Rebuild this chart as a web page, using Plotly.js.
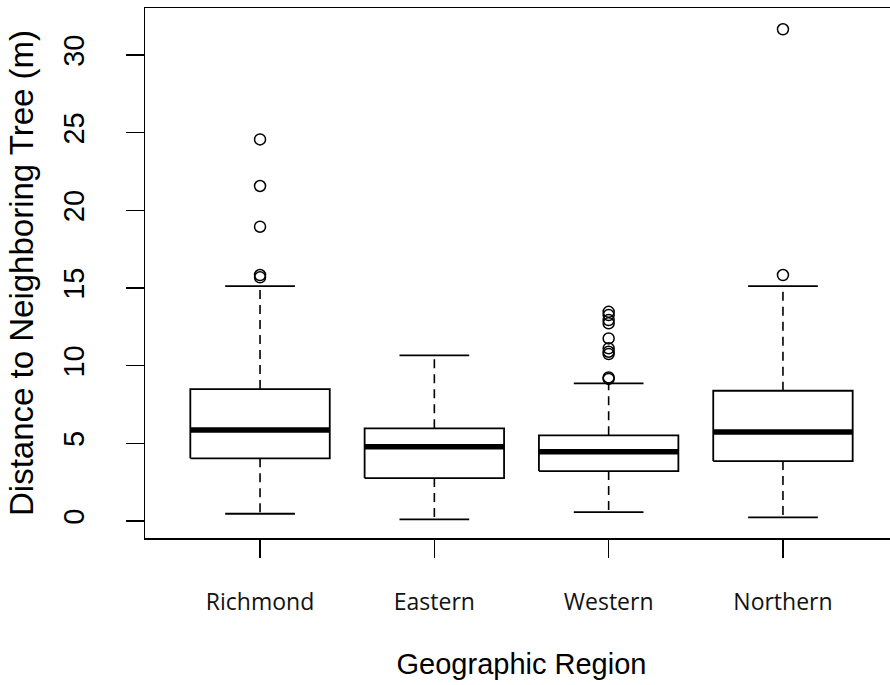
<!DOCTYPE html>
<html>
<head>
<meta charset="utf-8">
<script src="https://cdn.plot.ly/plotly-3.0.1.min.js"></script>
<style>
html,body{margin:0;padding:0;overflow:hidden;background:#fff;}
#chart{width:900px;height:685px;}
</style>
</head>
<body>
<div id="chart"></div>
<script>
// Data
var categories = ['Richmond', 'Eastern', 'Western', 'Northern'];
var lowerWhisker = [0.47, 0.11, 0.58, 0.24];
var q1 = [4.04, 2.77, 3.22, 3.86];
var median = [5.86, 4.78, 4.46, 5.73];
var q3 = [8.50, 5.97, 5.52, 8.39];
var upperWhisker = [15.13, 10.67, 8.86, 15.13];
var outliersRichmond = [24.57, 21.57, 18.95, 15.84, 15.69];
var outliersEastern = [];
var outliersWestern = [13.47, 13.26, 12.94, 12.73, 11.76, 11.12, 10.90, 10.75, 9.25, 9.15];
var outliersNorthern = [31.66, 15.84];
var outliers = [outliersRichmond, outliersEastern, outliersWestern, outliersNorthern];
var yTicks = [0, 5, 10, 15, 20, 25, 30];

var boxHalf = 0.4, capHalf = 0.2;
var bx = [], by = [], mx = [], my = [], wx = [], wy = [], cx = [], cy = [], ox = [], oy = [];
categories.forEach(function (c, i) {
  var p = i + 1;
  bx.push(p - boxHalf, p + boxHalf, p + boxHalf, p - boxHalf, p - boxHalf, null);
  by.push(q1[i], q1[i], q3[i], q3[i], q1[i], null);
  mx.push(p - boxHalf, p + boxHalf, null);
  my.push(median[i], median[i], null);
  wx.push(p, p, null, p, p, null);
  wy.push(q3[i], upperWhisker[i], null, q1[i], lowerWhisker[i], null);
  cx.push(p - capHalf, p + capHalf, null, p - capHalf, p + capHalf, null);
  cy.push(upperWhisker[i], upperWhisker[i], null, lowerWhisker[i], lowerWhisker[i], null);
  outliers[i].forEach(function (v) { ox.push(p); oy.push(v); });
});

var traces = [
  {x: wx, y: wy, mode: 'lines', line: {color: '#000', width: 1.6, dash: '9px,6px'}, hoverinfo: 'skip'},
  {x: cx, y: cy, mode: 'lines', line: {color: '#000', width: 1.8}, hoverinfo: 'skip'},
  {x: bx, y: by, mode: 'lines', line: {color: '#000', width: 1.8}, hoverinfo: 'skip'},
  {x: mx, y: my, mode: 'lines', line: {color: '#000', width: 5.5}, hoverinfo: 'skip'},
  {x: ox, y: oy, mode: 'markers', marker: {symbol: 'circle-open', size: 11, color: '#000', line: {width: 1.5, color: '#000'}}, hoverinfo: 'y'}
];
traces.forEach(function (t) { t.type = 'scatter'; t.showlegend = false; t.cliponaxis = false; });

var layout = {
  width: 900, height: 685,
  margin: {l: 145, r: 2, t: 8, b: 147},
  paper_bgcolor: '#fff', plot_bgcolor: '#fff',
  showlegend: false,
  xaxis: {
    range: [0.34, 4.66],
    tickvals: [1, 2, 3, 4], ticktext: categories,
    ticks: 'outside', ticklen: 18, tickwidth: 1.5, tickcolor: '#000',
    ticklabelstandoff: 25,
    tickfont: {family: 'Open Sans', size: 23, color: '#111'},
    showline: true, mirror: true, linecolor: '#000', linewidth: 1.5,
    showgrid: false, zeroline: false,
    title: {text: 'Geographic Region', font: {family: 'Liberation Sans', size: 29, color: '#000'}, standoff: 37}
  },
  yaxis: {
    range: [-1.09, 33.03],
    tickvals: yTicks, ticktext: yTicks.map(String),
    ticks: 'outside', ticklen: 18, tickwidth: 1.5, tickcolor: '#000',
    tickangle: -90, ticklabelstandoff: 30,
    tickfont: {family: 'Liberation Sans', size: 29, color: '#000'},
    showline: true, mirror: true, linecolor: '#000', linewidth: 1.5,
    showgrid: false, zeroline: false,
    title: {text: 'Distance to Neighboring Tree (m)', font: {family: 'Liberation Sans', size: 33, color: '#000'}, standoff: 14}
  }
};

Plotly.newPlot('chart', traces, layout, {displayModeBar: false, staticPlot: true});
</script>
</body>
</html>
